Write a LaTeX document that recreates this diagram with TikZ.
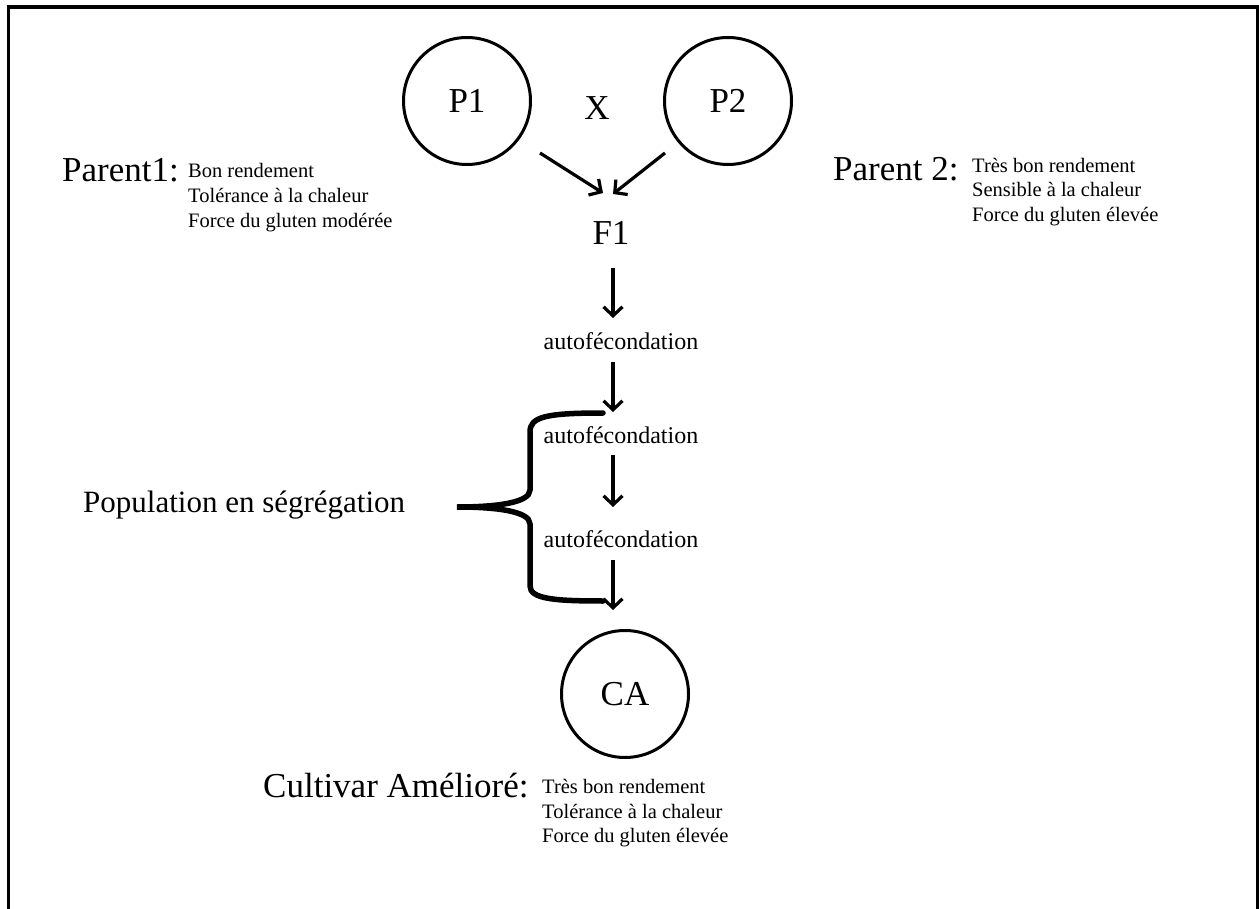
\documentclass[tikz,border=0pt]{standalone}
\usepackage{fontspec}
\setmainfont{Liberation Serif}
\usetikzlibrary{arrows.meta}
\begin{document}
\begin{tikzpicture}[x=1pt,y=-1pt,
  big/.style={font=\fontsize{35}{40}\selectfont, inner sep=0pt},
  mid/.style={font=\fontsize{31}{36}\selectfont, inner sep=0pt},
  small/.style={font=\fontsize{20.5}{24}\selectfont, inner sep=0pt, anchor=base west},
  autotext/.style={font=\fontsize{24}{28}\selectfont, inner sep=0pt, anchor=base},
  gen/.style={circle, draw, line width=3pt, minimum size=127pt, inner sep=0pt, font=\fontsize{35}{40}\selectfont},
  arr/.style={line width=3.2pt, -{Straight Barb[length=9pt,width=19pt,line width=3.2pt]}},
  brace/.style={line width=5.5pt, line cap=round}
]
\useasboundingbox (0,0) rectangle (1259,909);
\clip (0,0) rectangle (1259,909);
\draw[line width=3.4pt] (8.5,940) -- (8.5,7) -- (1257.5,7) -- (1257.5,940);

% circles
\node[gen] (P1) at (467,101) {P1};
\node[gen] (P2) at (728,101) {P2};
\node[gen] (CA) at (625,694) {CA};
\node[big, anchor=base] (X) at (597,120) {X};
\node[big, anchor=base] (F1) at (611,245) {F1};

% parent 1
\node[big, anchor=base west] (par1) at (62,182) {Parent1:};
\node[small] (p1a) at (188,178) {Bon rendement};
\node[small] (p1b) at (188,203) {Tolérance à la chaleur};
\node[small] (p1c) at (188,228) {Force du gluten modérée};

% parent 2
\node[big, anchor=base west] (par2) at (833,181) {Parent 2:};
\node[small] (p2a) at (972,173) {Très bon rendement};
\node[small] (p2b) at (972,197) {Sensible à la chaleur};
\node[small] (p2c) at (972,222) {Force du gluten élevée};

% cultivar
\node[big, anchor=base west] (cult) at (263,797) {Cultivar Amélioré:};
\node[small] (c1) at (542,793) {Très bon rendement};
\node[small] (c2) at (542,818) {Tolérance à la chaleur};
\node[small] (c3) at (542,842) {Force du gluten élevée};

% autofecondation
\node[autotext] (au1) at (621,350) {autofécondation};
\node[autotext] (au2) at (621,443) {autofécondation};
\node[autotext] (au3) at (621,547) {autofécondation};

\node[mid, anchor=base west] (pop) at (83,512) {Population en ségrégation};

% arrow end points
\coordinate (s1) at (540,153); \coordinate (e1) at (603,193);
\coordinate (s2) at (665,153); \coordinate (e2) at (613,194);
\coordinate (v1s) at (613,268); \coordinate (v1e) at (613,318);
\coordinate (v2s) at (613,362); \coordinate (v2e) at (613,412);
\coordinate (v3s) at (613,455); \coordinate (v3e) at (613,507);
\coordinate (v4s) at (613,560); \coordinate (v4e) at (613,610);

\draw[arr] (s1) -- (e1);
\draw[arr] (s2) -- (e2);
\draw[arr] (v1s) -- (v1e);
\draw[arr] (v2s) -- (v2e);
\draw[arr] (v3s) -- (v3e);
\draw[arr] (v4s) -- (v4e);

% brace
\coordinate (bt) at (603,413);
\coordinate (tip) at (457,507);
\coordinate (bb) at (603,601);
\draw[brace] (bt) .. controls (545,413) and (530,417) .. (530,432) -- (530,490)
  .. controls (530,503) and (495,507) .. (tip)
  .. controls (495,507) and (530,511) .. (530,524) -- (530,586)
  .. controls (530,599) and (555,601) .. (bb);
\end{tikzpicture}
\end{document}
